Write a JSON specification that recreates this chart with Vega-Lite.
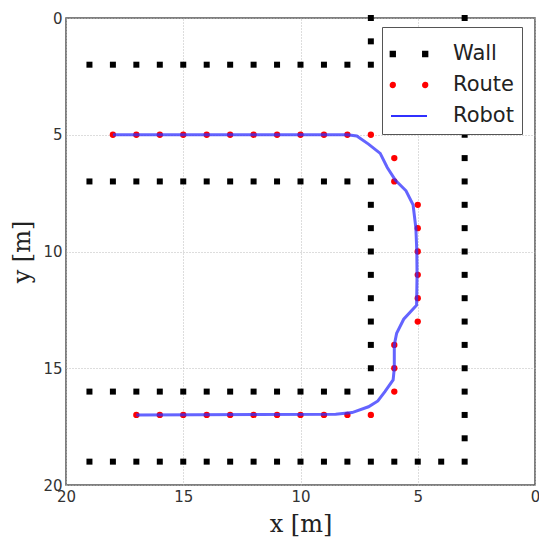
{
  "$schema": "https://vega.github.io/schema/vega-lite/v6.json",
  "autosize": {"type": "none"},
  "padding": {"left": 66, "top": 18, "right": 4, "bottom": 55},
  "width": 469,
  "height": 467,
  "background": "white",
  "config": {
    "view": {"stroke": "#555", "strokeWidth": 1.5},
    "axis": {
      "labelFont": "DejaVu Sans", "labelFontSize": 15, "labelColor": "#333",
      "titleFont": "DejaVu Serif", "titleFontSize": 24, "titleFontWeight": "normal", "titleColor": "#222",
      "grid": true, "gridColor": "#bbb", "gridDash": [1, 2], "gridWidth": 1,
      "ticks": false, "domain": false, "labelFlush": false, "labelOverlap": false, "labelBound": false
    },
    "legend": {
      "title": null, "orient": "none", "legendX": 316, "legendY": 9,
      "fillColor": "white", "strokeColor": "#555", "padding": 8,
      "labelFont": "DejaVu Sans", "labelFontSize": 21, "labelColor": "#222",
      "symbolSize": 1296, "symbolStrokeWidth": 2, "labelOffset": 25, "rowPadding": 2
    }
  },
  "data": {"values": [
    {"series":"Wall","x":19,"y":2},{"series":"Wall","x":18,"y":2},{"series":"Wall","x":17,"y":2},{"series":"Wall","x":16,"y":2},{"series":"Wall","x":15,"y":2},{"series":"Wall","x":14,"y":2},{"series":"Wall","x":13,"y":2},{"series":"Wall","x":12,"y":2},{"series":"Wall","x":11,"y":2},{"series":"Wall","x":10,"y":2},{"series":"Wall","x":9,"y":2},{"series":"Wall","x":8,"y":2},{"series":"Wall","x":7,"y":2},
    {"series":"Wall","x":19,"y":7},{"series":"Wall","x":18,"y":7},{"series":"Wall","x":17,"y":7},{"series":"Wall","x":16,"y":7},{"series":"Wall","x":15,"y":7},{"series":"Wall","x":14,"y":7},{"series":"Wall","x":13,"y":7},{"series":"Wall","x":12,"y":7},{"series":"Wall","x":11,"y":7},{"series":"Wall","x":10,"y":7},{"series":"Wall","x":9,"y":7},{"series":"Wall","x":8,"y":7},{"series":"Wall","x":7,"y":7},
    {"series":"Wall","x":19,"y":16},{"series":"Wall","x":18,"y":16},{"series":"Wall","x":17,"y":16},{"series":"Wall","x":16,"y":16},{"series":"Wall","x":15,"y":16},{"series":"Wall","x":14,"y":16},{"series":"Wall","x":13,"y":16},{"series":"Wall","x":12,"y":16},{"series":"Wall","x":11,"y":16},{"series":"Wall","x":10,"y":16},{"series":"Wall","x":9,"y":16},{"series":"Wall","x":8,"y":16},{"series":"Wall","x":7,"y":16},
    {"series":"Wall","x":19,"y":19},{"series":"Wall","x":18,"y":19},{"series":"Wall","x":17,"y":19},{"series":"Wall","x":16,"y":19},{"series":"Wall","x":15,"y":19},{"series":"Wall","x":14,"y":19},{"series":"Wall","x":13,"y":19},{"series":"Wall","x":12,"y":19},{"series":"Wall","x":11,"y":19},{"series":"Wall","x":10,"y":19},{"series":"Wall","x":9,"y":19},{"series":"Wall","x":8,"y":19},{"series":"Wall","x":7,"y":19},{"series":"Wall","x":6,"y":19},{"series":"Wall","x":5,"y":19},{"series":"Wall","x":4,"y":19},{"series":"Wall","x":3,"y":19},
    {"series":"Wall","x":7,"y":0},{"series":"Wall","x":7,"y":1},{"series":"Wall","x":7,"y":8},{"series":"Wall","x":7,"y":9},{"series":"Wall","x":7,"y":10},{"series":"Wall","x":7,"y":11},{"series":"Wall","x":7,"y":12},{"series":"Wall","x":7,"y":13},{"series":"Wall","x":7,"y":14},{"series":"Wall","x":7,"y":15},
    {"series":"Wall","x":3,"y":0},{"series":"Wall","x":3,"y":1},{"series":"Wall","x":3,"y":2},{"series":"Wall","x":3,"y":3},{"series":"Wall","x":3,"y":4},{"series":"Wall","x":3,"y":5},{"series":"Wall","x":3,"y":6},{"series":"Wall","x":3,"y":7},{"series":"Wall","x":3,"y":8},{"series":"Wall","x":3,"y":9},{"series":"Wall","x":3,"y":10},{"series":"Wall","x":3,"y":11},{"series":"Wall","x":3,"y":12},{"series":"Wall","x":3,"y":13},{"series":"Wall","x":3,"y":14},{"series":"Wall","x":3,"y":15},{"series":"Wall","x":3,"y":16},{"series":"Wall","x":3,"y":17},{"series":"Wall","x":3,"y":18},
    {"series":"Route","x":18,"y":5},{"series":"Route","x":17,"y":5},{"series":"Route","x":16,"y":5},{"series":"Route","x":15,"y":5},{"series":"Route","x":14,"y":5},{"series":"Route","x":13,"y":5},{"series":"Route","x":12,"y":5},{"series":"Route","x":11,"y":5},{"series":"Route","x":10,"y":5},{"series":"Route","x":9,"y":5},{"series":"Route","x":8,"y":5},{"series":"Route","x":7,"y":5},
    {"series":"Route","x":6,"y":6},{"series":"Route","x":6,"y":7},{"series":"Route","x":5,"y":8},{"series":"Route","x":5,"y":9},{"series":"Route","x":5,"y":10},{"series":"Route","x":5,"y":11},{"series":"Route","x":5,"y":12},{"series":"Route","x":5,"y":13},{"series":"Route","x":6,"y":14},{"series":"Route","x":6,"y":15},{"series":"Route","x":6,"y":16},
    {"series":"Route","x":7,"y":17},{"series":"Route","x":8,"y":17},{"series":"Route","x":9,"y":17},{"series":"Route","x":10,"y":17},{"series":"Route","x":11,"y":17},{"series":"Route","x":12,"y":17},{"series":"Route","x":13,"y":17},{"series":"Route","x":14,"y":17},{"series":"Route","x":15,"y":17},{"series":"Route","x":16,"y":17},{"series":"Route","x":17,"y":17},
    {"series":"Robot","o":1,"x":18,"y":5},{"series":"Robot","o":2,"x":8,"y":5},{"series":"Robot","o":3,"x":7.6,"y":5.05},{"series":"Robot","o":4,"x":7.1,"y":5.4},{"series":"Robot","o":5,"x":6.6,"y":5.8},{"series":"Robot","o":6,"x":6.3,"y":6.4},{"series":"Robot","o":7,"x":5.95,"y":6.95},{"series":"Robot","o":8,"x":5.5,"y":7.4},{"series":"Robot","o":9,"x":5.2,"y":8.0},{"series":"Robot","o":10,"x":5.08,"y":9},{"series":"Robot","o":11,"x":5.04,"y":10},{"series":"Robot","o":12,"x":5.03,"y":11},{"series":"Robot","o":13,"x":5.05,"y":12.3},{"series":"Robot","o":14,"x":5.6,"y":12.9},{"series":"Robot","o":15,"x":5.9,"y":13.5},{"series":"Robot","o":16,"x":6.0,"y":14},{"series":"Robot","o":17,"x":6.0,"y":15},{"series":"Robot","o":18,"x":6.05,"y":15.5},{"series":"Robot","o":19,"x":6.4,"y":16.0},{"series":"Robot","o":20,"x":6.7,"y":16.4},{"series":"Robot","o":21,"x":7.1,"y":16.65},{"series":"Robot","o":22,"x":7.8,"y":16.9},{"series":"Robot","o":23,"x":8.5,"y":16.97},{"series":"Robot","o":24,"x":17,"y":17}
  ]},
  "encoding": {
    "x": {"field": "x", "type": "quantitative", "title": "x [m]",
      "scale": {"domain": [0, 20], "reverse": true, "nice": false, "zero": false},
      "axis": {"values": [0, 5, 10, 15, 20], "labelPadding": 4, "titlePadding": 8}},
    "y": {"field": "y", "type": "quantitative", "title": "y [m]",
      "scale": {"domain": [0, 20], "reverse": true, "nice": false, "zero": false},
      "axis": {"values": [0, 5, 10, 15, 20], "labelPadding": 4, "titlePadding": 8}},
    "color": {"field": "series", "type": "nominal",
      "scale": {"domain": ["Wall", "Route", "Robot"], "range": ["black", "red", "#3030ff"]},
      "legend": {"title": null}}
  },
  "layer": [
    {"transform": [{"filter": "datum.series === 'Wall'"}],
     "mark": {"type": "point", "shape": "square", "filled": true, "size": 36, "opacity": 1}},
    {"transform": [{"filter": "datum.series === 'Route'"}],
     "mark": {"type": "point", "shape": "circle", "filled": true, "size": 40, "opacity": 1}},
    {"transform": [{"filter": "datum.series === 'Robot'"}],
     "mark": {"type": "line", "strokeWidth": 3, "opacity": 0.75, "interpolate": "linear"},
     "encoding": {"order": {"field": "o", "type": "quantitative"}}},
    {"transform": [{"filter": "false"}],
     "mark": {"type": "point", "filled": true, "opacity": 1},
     "encoding": {"shape": {"field": "series", "type": "nominal", "legend": {"title": null},
       "scale": {"domain": ["Wall", "Route", "Robot"],
         "range": ["M-1.02,-0.12h0.24v0.24h-0.24z M0.78,-0.12h0.24v0.24h-0.24z",
                   "M-0.78,0A0.12,0.12 0 1,1 -1.02,0A0.12,0.12 0 1,1 -0.78,0Z M1.02,0A0.12,0.12 0 1,1 0.78,0A0.12,0.12 0 1,1 1.02,0Z",
                   "M-1,0L1,0"]}}}}
  ]
}
